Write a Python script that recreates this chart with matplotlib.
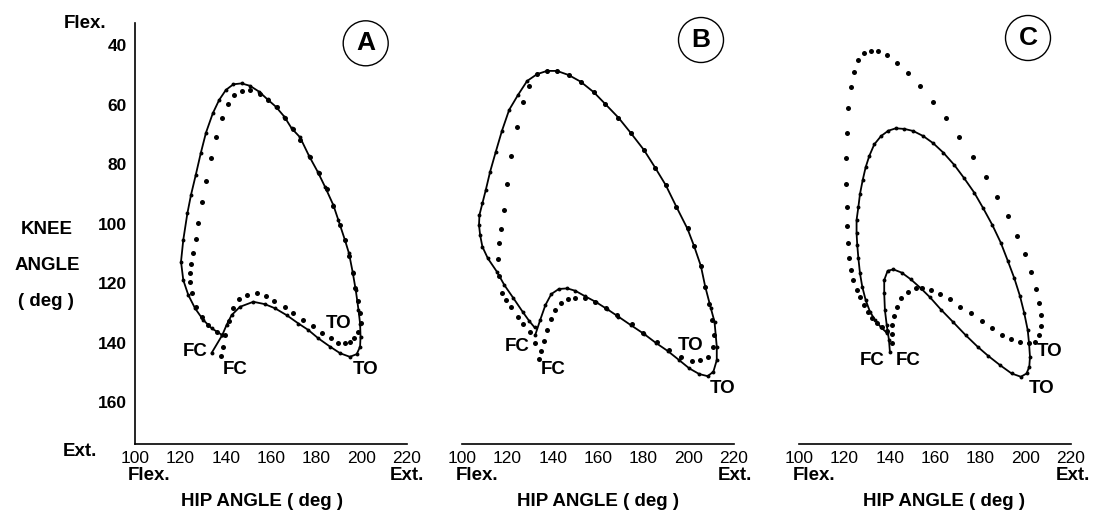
import numpy as np
import matplotlib
matplotlib.use("Agg")
import matplotlib.pyplot as plt
from matplotlib.patches import Ellipse

plt.rcParams['font.family'] = ['Liberation Sans', 'DejaVu Sans']

W, H = 1093, 518

# hip / knee angle (deg), one loop per subject
# panel A
a_solid_hip = [133.8, 138.5, 140.4, 142.6, 146.3, 152.2, 157.3, 161.8, 166.9, 172.1, 176.5, 180.9, 186.1,
               190.5, 194.8, 197.8, 199.3, 199.5, 199.3, 198.6, 197.4, 196.0, 194.4, 192.6, 189.7, 187.5,
               183.8, 180.6, 176.8, 172.8, 169.1, 165.9, 162.1, 158.5, 154.8, 150.7, 147.0, 143.4, 140.1,
               137.1, 134.3, 131.3, 129.0, 126.8, 124.7, 123.1, 121.3, 120.3, 121.3, 123.5, 126.5, 130.1,
               133.8, 138.5]
a_solid_knee = [143.5, 137.5, 134.1, 130.8, 128.0, 126.3, 127.1, 128.5, 130.8, 133.6, 135.8, 138.6, 141.4,
                143.6, 144.8, 143.9, 141.4, 138.0, 133.6, 129.0, 122.4, 116.2, 110.0, 105.5, 98.8, 93.8,
                87.6, 82.6, 77.3, 71.0, 68.0, 64.1, 60.7, 58.3, 55.7, 53.7, 52.9, 53.2, 55.1,
                58.5, 63.0, 69.5, 76.4, 83.7, 90.4, 96.6, 105.5, 112.8, 119.0, 124.0, 128.5, 132.4,
                135.2, 137.5]
a_dot_hip = [137.8, 138.7, 139.8, 141.6, 143.4, 146.0, 149.3, 153.7, 157.7, 161.3, 166.2, 169.8, 174.3,
             178.7, 182.6, 186.3, 189.7, 192.6, 194.8, 196.7, 198.5, 199.5, 199.3, 198.3, 197.2, 196.0,
             194.5, 192.6, 190.5, 187.5, 184.5, 181.0, 177.0, 173.0, 169.5, 166.0, 162.5, 158.8, 155.0,
             150.7, 147.3, 143.8, 140.9, 138.2, 135.7, 133.4, 131.3, 129.4, 127.9, 126.8, 125.4, 124.7,
             124.3, 124.3, 125.0, 126.8, 129.4, 132.3, 136.0]
a_dot_knee = [144.5, 141.4, 137.5, 132.8, 128.5, 125.5, 124.0, 123.3, 124.4, 126.0, 128.2, 130.2, 132.5,
              134.6, 136.7, 138.6, 140.1, 140.3, 139.7, 138.6, 136.5, 133.5, 130.0, 126.0, 121.5, 116.5,
              111.0, 105.5, 100.5, 94.0, 88.5, 83.0, 77.5, 72.0, 68.2, 64.5, 61.0, 58.5, 56.3,
              55.1, 55.4, 56.9, 59.9, 64.6, 70.8, 77.9, 85.6, 92.9, 99.7, 105.3, 109.8, 113.6,
              116.7, 119.6, 123.5, 128.0, 131.3, 134.1, 136.4]

# panel B
b_solid_hip = [132.3, 134.5, 136.8, 139.4, 142.7, 146.4, 150.0, 154.2, 158.9, 164.1, 169.0, 174.4, 180.3,
               185.5, 190.7, 195.8, 200.3, 204.7, 208.4, 210.9, 212.4, 212.4, 211.4, 209.8, 207.3, 205.4,
               202.4, 199.5, 194.6, 189.9, 185.2, 180.3, 174.4, 169.0, 163.3, 158.2, 152.3, 147.1, 141.9,
               137.5, 133.1, 128.7, 124.7, 120.8, 117.6, 114.9, 112.4, 110.5, 109.0, 107.7, 107.5, 108.0,
               109.0, 111.4, 115.4, 118.7, 122.7, 126.7, 129.7, 132.0]
b_solid_knee = [137.5, 132.4, 127.4, 123.7, 122.0, 121.8, 122.6, 124.4, 126.3, 128.8, 131.3, 134.1, 137.1,
                140.1, 142.8, 145.9, 148.7, 150.6, 151.3, 149.8, 145.9, 141.4, 133.0, 128.5, 121.2, 114.3,
                107.6, 101.8, 94.4, 87.1, 81.2, 75.3, 69.5, 64.4, 59.9, 55.9, 52.3, 50.1, 48.7,
                48.7, 49.8, 52.1, 56.8, 61.8, 68.9, 75.9, 82.6, 88.7, 93.2, 97.1, 100.5, 103.9,
                107.8, 111.7, 116.2, 120.7, 125.1, 129.6, 132.8, 134.9]
b_dot_hip = [134.0, 134.9, 136.0, 137.5, 139.4, 141.2, 143.7, 146.8, 150.0, 154.2, 158.7, 163.5, 168.5,
             175.1, 180.0, 186.2, 191.4, 196.5, 201.3, 205.1, 208.4, 210.6, 211.0, 210.5, 209.0, 207.3,
             205.4, 202.4, 199.5, 194.6, 189.9, 185.2, 180.3, 174.4, 169.0, 163.3, 158.2, 152.3, 147.1,
             141.9, 137.5, 133.1, 129.4, 126.7, 124.2, 121.7, 119.8, 118.6, 117.1, 116.2, 115.8, 116.3,
             117.7, 119.4, 121.7, 124.5, 127.1, 129.8, 132.0]
b_dot_knee = [145.6, 142.8, 139.4, 135.8, 132.2, 129.1, 126.8, 125.5, 124.9, 125.1, 126.5, 128.5, 130.8,
              133.6, 136.9, 139.7, 142.5, 144.8, 146.1, 145.9, 144.8, 141.4, 137.5, 132.5, 127.0, 121.2,
              114.3, 107.6, 101.5, 94.4, 87.1, 81.2, 75.3, 69.5, 64.4, 59.9, 55.9, 52.3, 50.1,
              48.7, 48.7, 49.8, 53.7, 59.3, 67.5, 77.2, 86.8, 95.5, 101.8, 106.5, 112.0, 117.5,
              123.2, 125.7, 128.2, 131.3, 133.8, 136.4, 140.3]

# panel C
c_solid_hip = [140.1, 139.7, 138.7, 137.9, 137.6, 137.6, 139.1, 141.6, 145.3, 149.4, 153.8, 157.8, 162.6,
               168.1, 173.5, 178.8, 183.5, 188.7, 193.8, 197.9, 200.4, 201.6, 201.9, 201.5, 200.9, 199.4,
               197.5, 195.0, 192.1, 189.0, 185.3, 181.3, 177.3, 172.9, 168.5, 163.7, 159.2, 154.8, 150.4,
               146.5, 142.7, 139.4, 136.2, 133.2, 131.0, 129.4, 128.1, 126.9, 126.2, 125.4, 125.4, 125.7,
               126.2, 126.9, 127.9, 129.4, 131.3, 133.5, 136.2, 138.7]
c_solid_knee = [143.1, 139.2, 134.1, 129.1, 123.5, 119.0, 115.9, 115.4, 116.5, 118.8, 121.8, 124.8, 128.9,
                133.2, 137.5, 141.4, 144.5, 147.6, 150.4, 151.5, 150.4, 148.1, 144.8, 140.3, 135.8, 130.2,
                124.4, 118.4, 112.5, 106.4, 100.5, 94.9, 89.6, 84.8, 80.3, 76.2, 73.0, 70.6, 68.9,
                68.2, 68.0, 68.8, 70.6, 73.4, 77.3, 81.1, 85.4, 90.1, 94.4, 98.8, 103.3, 107.2,
                111.7, 116.7, 121.2, 125.7, 129.6, 132.4, 134.9, 136.7]
c_dot_hip = [140.9, 140.9, 141.2, 141.9, 143.1, 145.0, 148.2, 151.5, 154.4, 158.2, 162.2, 166.6, 171.0,
             175.9, 180.6, 185.0, 189.4, 193.5, 197.5, 201.6, 204.1, 205.9, 206.6, 206.6, 205.9, 204.4,
             202.3, 199.7, 196.3, 192.1, 187.5, 182.4, 176.6, 170.7, 164.8, 159.0, 153.4, 148.2, 143.4,
             139.0, 135.0, 131.6, 128.8, 126.2, 124.4, 122.9, 121.7, 121.0, 120.7, 120.7, 121.0, 121.0,
             121.5, 122.0, 122.9, 124.0, 125.4, 126.9, 128.8, 130.6, 132.3, 134.3, 136.5, 138.7]
c_dot_knee = [140.3, 137.1, 134.1, 131.1, 128.0, 125.1, 122.9, 121.8, 121.8, 122.4, 123.7, 125.5, 128.0,
              130.2, 132.8, 135.2, 137.5, 138.9, 139.9, 140.3, 139.7, 137.5, 134.5, 130.8, 126.8, 122.0,
              116.3, 110.4, 104.2, 97.5, 91.0, 84.3, 77.5, 70.8, 64.6, 59.1, 53.8, 49.5, 46.2,
              43.4, 42.0, 41.9, 42.8, 45.0, 49.0, 54.2, 61.3, 69.7, 78.1, 86.7, 94.4, 100.8,
              106.7, 111.7, 115.6, 119.0, 122.4, 124.8, 127.4, 129.6, 131.9, 133.5, 134.9, 136.0]

panel_names = ['A', 'B', 'C']
hip_ticks = [100, 120, 140, 160, 180, 200, 220]
knee_ticks = [40, 60, 80, 100, 120, 140, 160]

# event labels: (text, hip, knee)
events = {
    'A': [('FC', 126.5, 143.1), ('FC', 144.1, 149.2), ('TO', 189.7, 133.5), ('TO', 201.8, 149.2)],
    'B': [('FC', 124.2, 141.4), ('FC', 140.2, 149.2), ('TO', 201.0, 141.1), ('TO', 215.0, 155.4)],
    'C': [('FC', 132.1, 145.9), ('FC', 148.2, 145.9), ('TO', 210.7, 143.1), ('TO', 207.1, 155.4)],
}


def fx(px):
    return px / W


def fy(py):
    return 1 - py / H


fig = plt.figure(figsize=(W / 100, H / 100), dpi=100)

lefts = [135, 462, 799]
loops = [
    (a_solid_hip, a_solid_knee, a_dot_hip, a_dot_knee),
    (b_solid_hip, b_solid_knee, b_dot_hip, b_dot_knee),
    (c_solid_hip, c_solid_knee, c_dot_hip, c_dot_knee),
]
circles = [(365.7, 43.3), (701, 40), (1028, 38)]
hip_label_x = [262, 598, 944]
flex_x = [128, 456, 793]
ext_x = [390, 718, 1056]

for i, name in enumerate(panel_names):
    ax = fig.add_axes([fx(lefts[i]), fy(444), 272 / W, 421 / H])
    sh, sk, dh, dk = loops[i]
    ax.plot(sh, sk, '-', color='black', lw=1.3, marker='o', ms=2.8, mew=0)
    ax.plot(dh, dk, 'o', color='black', ms=3.6, mew=0)
    ax.set_xlim(100, 220)
    ax.set_ylim(174.1, 32.6)
    ax.set_xticks(hip_ticks)
    ax.set_xticklabels([str(t) for t in hip_ticks], fontsize=12.5)
    ax.tick_params(axis='both', length=0)
    ax.tick_params(axis='x', pad=5)
    for s in ['top', 'right']:
        ax.spines[s].set_visible(False)
    ax.spines['bottom'].set_linewidth(1.2)
    if i == 0:
        ax.set_yticks(knee_ticks)
        ax.set_yticklabels([str(t) for t in knee_ticks], fontsize=12.5, fontweight='bold')
        ax.tick_params(axis='y', pad=6)
        ax.spines['left'].set_linewidth(1.2)
    else:
        ax.spines['left'].set_visible(False)
        ax.set_yticks([])

    for txt, hx, ky in events[name]:
        ax.text(hx, ky, txt, ha='center', va='center', fontsize=13.5, fontweight='bold')

    # circled panel letter
    cx, cy = circles[i]
    fig.add_artist(Ellipse((fx(cx), fy(cy)), 45 / W, 45 / H, transform=fig.transFigure,
                           fill=False, lw=1.0, ec='black'))
    fig.text(fx(cx), fy(cy), name, ha='center', va='center', fontsize=19, fontweight='bold')

    fig.text(fx(flex_x[i]), fy(475), 'Flex.', ha='left', va='center', fontsize=13.5, fontweight='bold')
    fig.text(fx(ext_x[i]), fy(475), 'Ext.', ha='left', va='center', fontsize=13.5, fontweight='bold')
    fig.text(fx(hip_label_x[i]), fy(502), 'HIP ANGLE ( deg )', ha='center', va='center',
             fontsize=13.5, fontweight='bold')

fig.text(fx(85), fy(24), 'Flex.', ha='center', va='center', fontsize=13.5, fontweight='bold')
fig.text(fx(80), fy(452), 'Ext.', ha='center', va='center', fontsize=13.5, fontweight='bold')
fig.text(fx(47), fy(230), 'KNEE', ha='center', va='center', fontsize=13.5, fontweight='bold')
fig.text(fx(47), fy(266), 'ANGLE', ha='center', va='center', fontsize=13.5, fontweight='bold')
fig.text(fx(46), fy(302), '( deg )', ha='center', va='center', fontsize=13.5, fontweight='bold')

fig.savefig('out.png', dpi=100)
